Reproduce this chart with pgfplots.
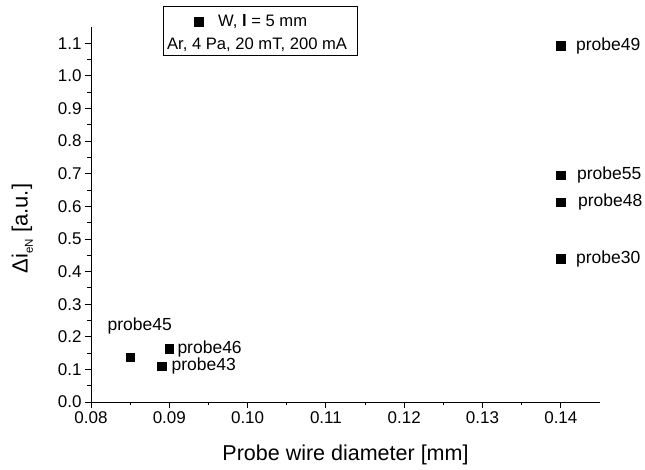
\documentclass[border=0pt]{standalone}
\usepackage{pgfplots}
\pgfplotsset{compat=1.18}
\usepackage{fontspec}
\setmainfont{Liberation Sans}
\begin{document}
\begin{tikzpicture}
\begin{axis}[
  scale only axis,
  width=509pt, height=375pt,
  xmin=0.08, xmax=0.145,
  ymin=0, ymax=1.15,
  axis x line*=bottom, axis y line*=left,
  axis line style={-, line width=0.9pt},
  xtick={0.08,0.09,...,0.141},
  ytick={0,0.1,...,1.11},
  minor x tick num=1, minor y tick num=1,
  tick align=outside,
  major tick length=6pt, minor tick length=3.5pt,
  every tick/.style={black, line width=0.9pt},
  xticklabel style={/pgf/number format/.cd, fixed, fixed zerofill, precision=2},
  yticklabel style={/pgf/number format/.cd, fixed, fixed zerofill, precision=1},
  /pgf/number format/assume math mode=true,
  tick label style={font=\fontsize{17}{20}\selectfont},
  xlabel={Probe wire diameter [mm]},
  ylabel={Δi\raisebox{-0.45ex}{\fontsize{11.5}{13}\selectfont eN} [a.u.]},
  xlabel style={font=\fontsize{21.5}{24}\selectfont, yshift=-14pt},
  ylabel style={font=\fontsize{22}{25}\selectfont, yshift=18pt, xshift=-14pt},
  legend style={at={(0.141,1.056)}, anchor=north west, draw=black, line width=0.7pt,
    font=\fontsize{16.6}{23}\selectfont, legend cell align=left, inner sep=2pt},
  legend image code/.code={\draw[#1, overlay, xshift=34pt, yshift=9pt] plot coordinates {(0pt,0pt)};},
  clip=false,
]
\addplot[only marks, mark=square*, mark size=4.3pt, black] coordinates {
  (0.14,1.092) (0.14,0.696) (0.14,0.613) (0.14,0.439)
  (0.085,0.137) (0.090,0.163) (0.089,0.110)
};
\addlegendentry{\begin{tabular}[b]{@{}l@{}}\hspace*{51pt}W, \textbf{l} = 5 mm\\ Ar, 4 Pa, 20 mT, 200 mA\hspace*{6pt}\end{tabular}}
\coordinate (O) at (rel axis cs:0,0);
\begin{scope}[every node/.style={font=\fontsize{17.5}{20}\selectfont, inner sep=0pt, anchor=west}]
\node at (axis cs:0.14,1.092) [xshift=15pt] {probe49};
\node at (axis cs:0.14,0.696) [xshift=16pt] {probe55};
\node at (axis cs:0.14,0.613) [xshift=17pt] {probe48};
\node at (axis cs:0.14,0.439) [xshift=15pt] {probe30};
\node at (axis cs:0.090,0.163) [xshift=8pt] {probe46};
\node at (axis cs:0.089,0.110) [xshift=10pt] {probe43};
\node[anchor=center] at (axis cs:0.085,0.137) [xshift=9.5pt, yshift=31pt] {probe45};
\end{scope}
\end{axis}
\path (O) ++(-91pt,-68pt) rectangle ++(645pt,470pt);
\end{tikzpicture}
\end{document}
